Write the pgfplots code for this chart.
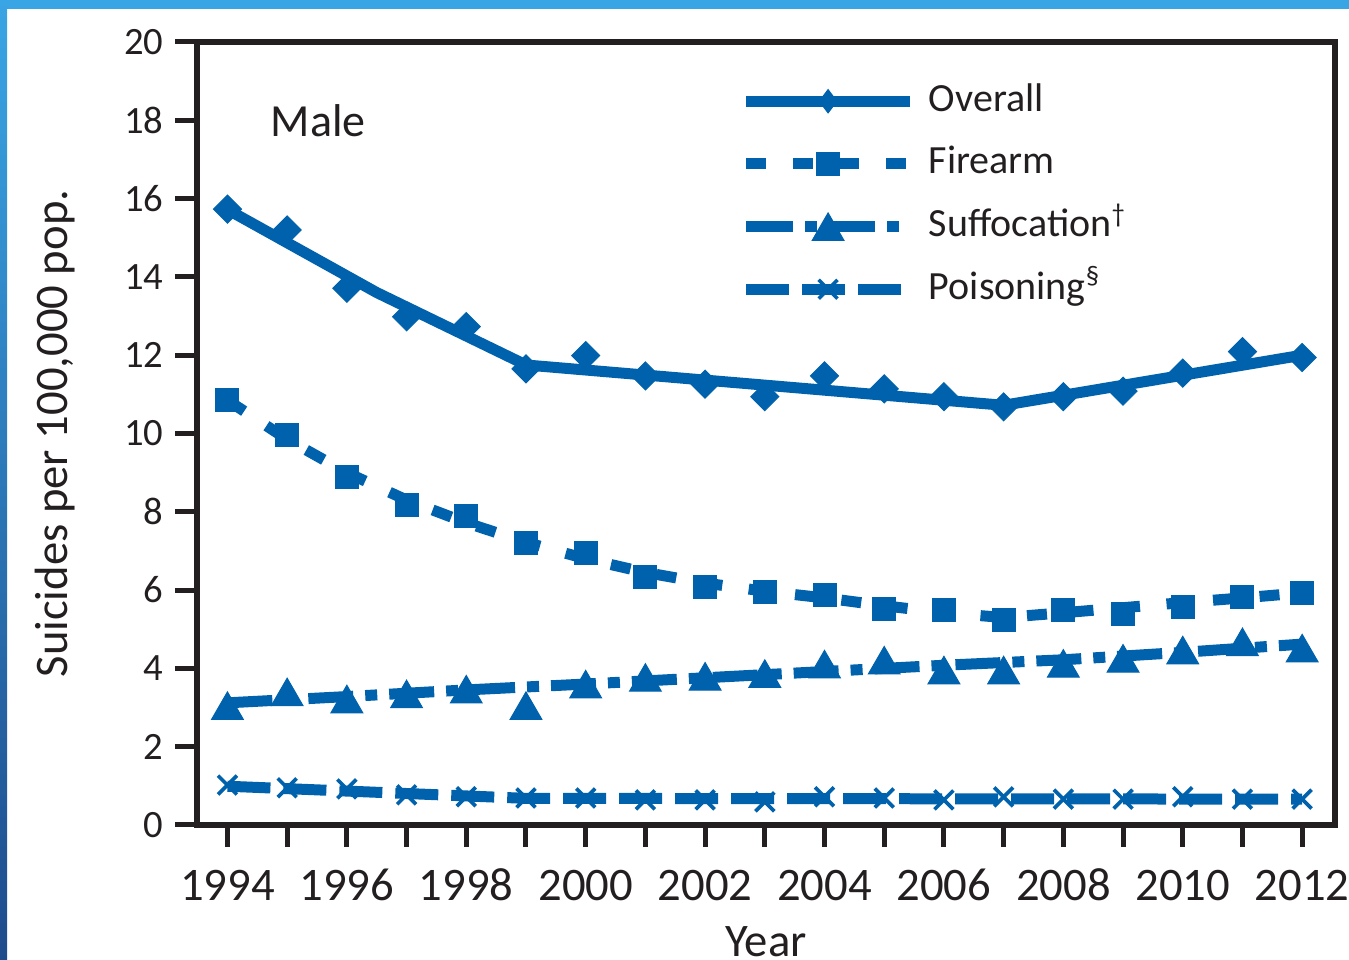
\documentclass[border=0pt]{standalone}
\usepackage{pgfplots}
\pgfplotsset{compat=1.18}
\usepackage{fontspec}
\setmainfont{Carlito}
\definecolor{cdcblue}{RGB}{0,98,172}
\definecolor{axisblack}{RGB}{35,31,32}
\definecolor{stripblue}{RGB}{58,165,228}
\definecolor{stripnavy}{RGB}{30,75,140}

\begin{document}
\begin{tikzpicture}
\useasboundingbox (0,0) rectangle (404.7pt,288pt);
\fill[stripblue] (0,285.3pt) rectangle (404.7pt,288pt);
\shade[top color=stripblue, bottom color=stripnavy] (0,0) rectangle (2.1pt,288pt);
\begin{axis}[
  at={(59.1pt,40.5pt)}, anchor=south west,
  scale only axis, width=341.4pt, height=234.9pt,
  xmin=1993.49, xmax=2012.55, ymin=0, ymax=20,
  axis line style={axisblack, line width=1.8pt},
  xtick={1994,1996,...,2012},
  xticklabels={1994,1996,1998,2000,2002,2004,2006,2008,2010,2012},
  minor xtick={1995,1997,...,2011},
  ytick={0,2,...,20},
  yticklabels={0,2,4,6,8,10,12,14,16,18,20},
  tick align=outside, xtick pos=bottom, ytick pos=left,
  major tick length=6.5pt, minor tick length=6.5pt,
  every tick/.style={axisblack, line width=1.5pt},
  every minor tick/.style={axisblack, line width=1.5pt},
  xticklabel style={font=\fontsize{14}{14}\selectfont, text=axisblack, anchor=north, text height=9.5pt, text depth=0pt, yshift=-3pt},
  yticklabel style={font=\fontsize{11.6}{12}\selectfont, text=axisblack},
  xlabel={Year},
  xlabel style={at={(axis description cs:0.5,-0.1686)}, anchor=base, font=\fontsize{14}{14}\selectfont, text=axisblack},
  ylabel={Suicides per 100,000 pop.},
  ylabel style={at={(axis description cs:-0.1248,0.5)}, anchor=center, font=\fontsize{14}{14}\selectfont, text=axisblack},
  legend image code/.code={
    \draw[#1, mark=none] (0pt,0pt) -- (49.2pt,0pt);
    \draw[#1] plot coordinates {(24.6pt,0pt)};
  },
  legend style={at={(0.4771,0.949)}, anchor=north west, draw=none, fill=none,
    font=\fontsize{12}{12}\selectfont, text=axisblack, inner sep=0pt, row sep=7.6pt,
    nodes={inner sep=0pt, text height=8.6pt, text depth=2.6pt},
    /tikz/every odd column/.append style={column sep=4pt}},
  legend cell align=left,
]
% ---- Overall
\addplot[cdcblue, line width=3.3pt, forget plot] coordinates {(1994,15.72)(1996.5,13.6)(1999,11.75)(2007,10.72)(2012,12.0)};
\addplot[cdcblue, only marks, mark=square*, mark size=2.97pt, mark options={rotate=45, line width=0.3pt}, forget plot] coordinates {
(1994,15.73)(1995,15.2)(1996,13.71)(1997,12.98)(1998,12.73)(1999,11.65)(2000,11.99)(2001,11.47)(2002,11.26)(2003,10.94)
(2004,11.47)(2005,11.14)(2006,10.94)(2007,10.68)(2008,10.94)(2009,11.08)(2010,11.54)(2011,12.09)(2012,11.94)};
% ---- Firearm
\addplot[cdcblue, line width=3.3pt, dash pattern=on 6pt off 8pt, forget plot] coordinates {
(1994,10.85)(1995,9.85)(1996,9.0)(1997,8.3)(1998,7.72)(1999,7.22)(2000,6.8)(2001,6.45)(2002,6.18)(2003,5.97)
(2004,5.8)(2005,5.6)(2006,5.42)(2007,5.3)(2008,5.42)(2009,5.55)(2010,5.68)(2011,5.8)(2012,5.93)};
\addplot[cdcblue, only marks, mark=square*, mark size=3.45pt, mark options={line width=0.3pt}, forget plot] coordinates {
(1994,10.85)(1995,9.96)(1996,8.9)(1997,8.17)(1998,7.88)(1999,7.2)(2000,6.95)(2001,6.34)(2002,6.09)(2003,5.96)
(2004,5.87)(2005,5.52)(2006,5.49)(2007,5.24)(2008,5.49)(2009,5.4)(2010,5.57)(2011,5.82)(2012,5.92)};
% ---- Suffocation
\addplot[cdcblue, line width=3.3pt, dash pattern=on 13.5pt off 3.6pt on 3.6pt off 3.6pt, forget plot] coordinates {
(1994,3.12)(1996,3.28)(1998,3.45)(2000,3.6)(2002,3.76)(2004,3.92)(2006,4.08)(2008,4.22)(2010,4.41)(2012,4.62)};
\addplot[cdcblue, only marks, mark=triangle*, mark size=5.5pt, mark options={line width=0.3pt, yshift=-1.4pt}, forget plot] coordinates {
(1994,3.05)(1995,3.40)(1996,3.22)(1997,3.35)(1998,3.47)(1999,3.05)(2000,3.6)(2001,3.77)(2002,3.8)(2003,3.87)
(2004,4.11)(2005,4.21)(2006,3.96)(2007,3.96)(2008,4.13)(2009,4.26)(2010,4.47)(2011,4.68)(2012,4.52)};
% ---- Poisoning
\addplot[cdcblue, line width=3.3pt, dash pattern=on 12.9pt off 3.9pt, forget plot] coordinates {
(1994,0.99)(1999,0.68)(2012,0.66)};
\addplot[cdcblue, only marks, mark=x, mark size=4pt, mark options={line width=1.1pt}, forget plot] coordinates {
(1994,1.02)(1995,0.95)(1996,0.92)(1997,0.77)(1998,0.72)(1999,0.69)(2000,0.69)(2001,0.64)(2002,0.64)(2003,0.59)
(2004,0.72)(2005,0.69)(2006,0.64)(2007,0.72)(2008,0.66)(2009,0.66)(2010,0.72)(2011,0.66)(2012,0.66)};
% ---- legend
\addlegendimage{cdcblue, line width=3.3pt, mark=diamond*, mark size=3.5pt, mark options={solid, line width=0.3pt}}
\addlegendentry{Overall}
\addlegendimage{cdcblue, line width=3.3pt, dash pattern=on 6pt off 8pt, mark=square*, mark size=3.45pt, mark options={solid, line width=0.3pt}}
\addlegendentry{Firearm}
\addlegendimage{cdcblue, line width=3.3pt, dash pattern=on 14pt off 3.6pt on 3.6pt off 3.6pt, mark=triangle*, mark size=5.5pt, mark options={solid, line width=0.3pt, yshift=-1.4pt}}
\addlegendentry{Suffocation\textsuperscript{†}}
\addlegendimage{cdcblue, line width=3.3pt, dash pattern=on 12.9pt off 3.9pt, mark=x, mark size=4pt, mark options={solid, line width=1.1pt}}
\addlegendentry{Poisoning\textsuperscript{§}}
\node[font=\fontsize{13.8}{14}\selectfont, text=axisblack] at (axis cs:1995.52,18.0) {Male};
\end{axis}
\end{tikzpicture}
\end{document}
